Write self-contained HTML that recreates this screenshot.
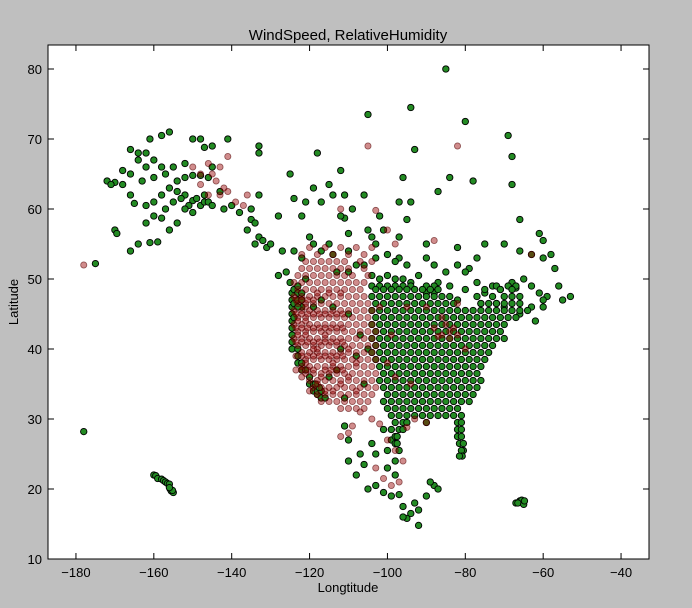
<!DOCTYPE html>
<html><head><meta charset="utf-8"><style>
html,body{margin:0;padding:0;background:#bfbfbf;}
svg{display:block;font-family:"Liberation Sans",sans-serif;}
</style></head><body>
<svg id="chart" width="692" height="608">
<rect x="0" y="0" width="692" height="608" fill="#bfbfbf"/>
<rect x="48" y="45" width="601" height="514" fill="#fff"/>
<g id="marks"></g>
<rect x="48" y="45" width="601" height="514" fill="none" stroke="#000" stroke-width="1"/>
<g id="axes"></g>
<text x="348" y="40" text-anchor="middle" font-size="15">WindSpeed, RelativeHumidity</text>
<text x="348" y="592" text-anchor="middle" font-size="13">Longtitude</text>
<text x="18" y="302" text-anchor="middle" font-size="13" transform="rotate(-90 18 302)">Latitude</text>
</svg>
<script>
const xTicks=[-180,-160,-140,-120,-100,-80,-60,-40];
const yTicks=[10,20,30,40,50,60,70,80];
const greenScatter=[-166,68.5,-164,67,-162,66,-160,67,-158,70.5,-156,71,-163,64,-160,64.5,-158,66,-155,66,-152,66.5,-150,70,-148,70,-147,68.8,-145,69,-141,70,-168,63.5,-170,63.8,-166,62,-165,60.8,-162,60.5,-160,61,-158,62,-156,63,-154,64,-152,64.5,-150,64.8,-148,64.8,-146,64.5,-152,62,-150,61.2,-149,61.5,-151,60.5,-148,60.5,-147,61,-152,60,-154,58,-156,57,-158,58.7,-160,59,-162,58,-161,55.2,-159,55.3,-164,55,-166,54,-170,57,-169.5,56.5,-157,60,-155,61,-153,61.5,-146,61,-145,60.5,-143,62.5,-142,60,-140,60.5,-138,59.5,-135,58.5,-134,58,-133,56,-132,55.5,-134,55,-136,57,-131,54.5,-130,55,-133,62,-133,69,-133,68,-135,60,-145,66,-147,62,-150,59.5,-154,62.5,-157,65,-162,68,-161,70,-164,68,-166,65,-168,65.5,-172,64,-171,63.5,-175,52.2,-178,28.2,
-160,22,-159.5,21.9,-159,21.5,-158,21.4,-157.5,21.2,-157,21,-156.5,20.8,-156,20.7,-155.8,20,-155.5,19.7,-155,19.5,-155.2,19.8,-156,20.2,
-67,18,-66,18.3,-65.5,18.4,-66.5,18,-65,17.8,-64.8,18.3,
-125,65,-118,68,-115,63.5,-112,65.5,-111,62,-114,62,-119,63,-117,61,-121,61,-124,61.5,-122,59,-111,58.7,-112,59,-106,62,-105,57,-101,57,-102,59,-97,56,-95,58.5,-94,61,-96,64.5,-94,74.5,-105,73.5,-85,80,-80,72.5,-84,64.5,-78,64,-69,70.5,-68,67.5,-68,63.5,-66,58.5,-61,56.5,-60,55.5,-58,53.5,-57,51.5,-63,53.5,-60,53,-66,54,-70,55,-75,55,-77,53,-79,51.5,-80,51,-77,49.5,-73,49,-71,48.5,-68,49.5,-65,50,-63,49,-61,48,-59,47.5,-63,46,-62,44,-66,45,-64,45.5,-60,46,-56,49,-53,47.5,-55,47,-66,47.5,-75,48,-80,48.5,-84,49,-87,49.5,-90,48,-92,50.5,-94,49.5,-96,50,-98,50,-100,50.5,-102,50,-104,50.5,-106,52,-108,52,-110,51,-113,51,-114,53.5,-117,54,-119,55,-120,56,-115,55,-110,54,-103,53,-100,53.5,-97,53,-95,52,-90,53,-88,52,-85,51,-82,52,-128,59,-128,50.5,-125,49.5,-124,54,-122,53,-121,50,-110,56.5,-90,55,-82,54.5,-97,61,-104,56,-109,60,-127,54,-126,51,-93,68.5,-87,62.5,-103,55,-98,52.5,-76,46.5,-72,46.5,-70,46,-67,48.7,-60,47,-88,48,-82,47,
-110,24,-108,22,-105,20,-103,20.5,-101,19.5,-99,19,-97,19.2,-96,17.5,-94,16.5,-92,14.8,-92,17,-90,19,-88,20.5,-87,20,-89,21,-100,23,-98,22,-103,25,-106,23.5,-107,25,-110,27,-111,29,-104,26.5,-100,25.5,-97,25.5,-93,18,-95,15.8,-96,16,-98,24,-99,27,-101,28.5,
-112,40,-111,33,-106,35,-108,39,-105,40,-117,47,-114,46,-119,46,-122,46,-110,45,-107,42,-115,36,-113,37,
-124.5,40,-124.5,41,-124.5,42,-124.5,43,-124.5,44,-124.5,45,-124.5,46,-124.5,47,-124.5,48,-124,44.5,-124,46.5,-124,48.5,-123,38,-123,39,-123,40,-123,46,-123,47,-123,48,-123,49,-122,37,-122,38,-122,47,-122,48,-121,37,-120,35,-120,36,-119,34,-119,35,-118,33.5,-118,34,-117,33,-117,34,-116,33,-117.5,34.5,-118.5,35];
const eastLats=[49,48.5,47.5,46.5,45.5,44.5,43.5,42.5,41.5,40.5,39.5,38.5,37.5,36.5,35.5,34.5,33.5,32.5,31.5,30.5,29.5,28.5,27.5,26.5,25.5,24.7];
const eastLons=[
[-104,-102,-100,-98,-96,-94,-90,-88,-72,-69,-67],
[-103,-101,-99,-97,-95,-93,-91,-89,-87,-75,-71,-68],
[-104,-102,-100,-98,-96,-94,-92,-90,-88,-86,-84,-77,-73,-70,-68],
[-103,-101,-99,-97,-95,-93,-91,-89,-87,-85,-83,-76,-74,-72,-70,-68,-66],
[-104,-102,-100,-98,-96,-94,-92,-90,-88,-86,-84,-82,-80,-78,-76,-74,-72,-70,-68,-66],
[-103,-101,-99,-97,-95,-93,-91,-89,-87,-85,-83,-81,-79,-77,-75,-73,-71,-69,-67],
[-104,-102,-100,-98,-96,-94,-92,-90,-88,-86,-84,-82,-80,-78,-76,-74,-72,-70],
[-103,-101,-99,-97,-95,-93,-91,-89,-87,-85,-83,-81,-79,-77,-75,-73,-71],
[-104,-102,-100,-98,-96,-94,-92,-90,-88,-86,-84,-82,-80,-78,-76,-74,-72,-70],
[-103,-101,-99,-97,-95,-93,-91,-89,-87,-85,-83,-81,-79,-77,-75,-73],
[-104,-102,-100,-98,-96,-94,-92,-90,-88,-86,-84,-82,-80,-78,-76,-74],
[-103,-101,-99,-97,-95,-93,-91,-89,-87,-85,-83,-81,-79,-77,-75],
[-102,-100,-98,-96,-94,-92,-90,-88,-86,-84,-82,-80,-78,-76],
[-101,-99,-97,-95,-93,-91,-89,-87,-85,-83,-81,-79,-77],
[-102,-100,-98,-96,-94,-92,-90,-88,-86,-84,-82,-80,-78,-76],
[-101,-99,-97,-95,-93,-91,-89,-87,-85,-83,-81,-79,-77],
[-100,-98,-96,-94,-92,-90,-88,-86,-84,-82,-80,-78],
[-101,-99,-97,-95,-93,-91,-89,-87,-85,-83,-81,-79],
[-100,-98,-96,-94,-92,-90,-88,-86,-84,-82],
[-99,-97,-95,-93,-91,-89,-87,-85,-83,-81],
[-98,-96,-95,-90,-82,-81],
[-99,-97,-96,-82,-81],
[-98,-97.5,-82,-81],
[-98,-97.5,-81.5,-80.5],
[-80.5,-81],
[-80.8,-81.5]];
const redLats=[54.5,53.5,52.5,51.5,50.5,49.5,48.5,47.5,46.5,45.5,44.5,43.5,42.5,41.5,40.5,39.5,38.5,37.5,36.5,35.5,34.5,33.5,32.5,31.5];
const redLons=[
[-120,-116,-112,-108,-104],
[-122,-118,-114,-110,-106],
[-121,-119,-117,-115,-113,-111,-107,-104],
[-122,-120,-118,-116,-114,-112,-110,-106],
[-123,-121,-119,-117,-115,-113,-111,-109,-105],
[-124,-122,-120,-118,-116,-114,-112,-110,-108,-106],
[-123,-121,-119,-117,-115,-113,-111,-109,-107],
[-124,-122,-120,-118,-116,-114,-112,-110,-108,-106],
[-123,-121,-119,-117,-115,-113,-111,-109,-107,-105],
[-124,-122,-120,-118,-116,-114,-112,-110,-108,-106,-104],
[-123,-121,-119,-117,-115,-113,-111,-109,-107,-105],
[-124,-122,-120,-118,-116,-114,-112,-110,-108,-106,-104],
[-123,-121,-119,-117,-115,-113,-111,-109,-107,-105,-103],
[-124,-122,-120,-118,-116,-114,-112,-110,-108,-106,-104],
[-123,-121,-119,-117,-115,-113,-111,-109,-107,-105,-103],
[-122,-120,-118,-116,-114,-112,-110,-108,-106,-104],
[-121,-119,-117,-115,-113,-111,-109,-107,-105,-103],
[-122,-120,-118,-116,-114,-112,-110,-108,-106,-104],
[-121,-119,-117,-115,-113,-111,-109,-107,-105,-103],
[-120,-118,-116,-114,-112,-110,-108,-106,-104],
[-119,-117,-115,-113,-111,-109,-107,-105,-103],
[-118,-116,-114,-112,-110,-108,-106,-104],
[-117,-115,-113,-111,-109,-107,-105],
[-112,-110,-108,-106]];
const redScatter=[-123.5,37,-122,37,-120.5,37,-119,37,-123.5,39,-122,39,-120.5,39,-119,39,-117.5,39,-123.5,41,-122,41,-120.5,41,-119,41,-117.5,41,-123.5,43,-122,43,-120.5,43,-119,43,-117.5,43,-123.5,45,-122,45,-120.5,45,-119,45,-117.5,45,-123.5,47,-122,47,-120.5,47,-119,47,-122,36,-120,34,-118,35,-116,34,-121,38,-118,40,-116,42,-114,38,
-116,37,-114.5,37,-113,37,-111.5,37,-116,39,-114.5,39,-113,39,-111.5,39,-116,41,-114.5,41,-113,41,-111.5,41,-116,43,-114.5,43,-113,43,-111.5,43,-116,45,-114.5,45,-113,45,-111.5,45,-118,48,-115,48,-112,48,-110,40,-108,38,-110,36,-108,34,-112,35,-114,34,-121,42,-121,44,-121,46,-119,40,-117,36,-123,44,-123,42,
-150,66,-148,65,-146,66.5,-144,64,-142,63,-141,62.5,-143,62,-146,62,-139,61,-137,60.5,-136,62,-148,63.5,-141,67.5,-143,66,-145,65,-178,52,-105,69,-82,69,-100,57,-103,59.8,-112,60,-98,55,-88,55.5,-63,53.5,-96,24,-98,25.5,-100,27,-102,29.3,-104,30,-107,31,-109,29,-110,28,-112,27.5,-103,23,-101,21.5,-99,20.5,-97,21,-95,28.8,-93,30,-90,29.5,-86,42,-84,42.5,-83,43,-85,43.5,-87,41.8,-84,41.5,-82,42,-86,44.5,-88,43,-80,40,-82,46.5,-90,46,-95,46,-99,42,-102,46,-100,38,-98,36,-94,35];

const X0=48,X1=649,Y0=45,Y1=559,LON0=-187.18,LON1=-32.82,LAT0=10,LAT1=83.43;
function sx(v){return X0+(v-LON0)/(LON1-LON0)*(X1-X0);}
function sy(v){return Y1-(v-LAT0)/(LAT1-LAT0)*(Y1-Y0);}
const NS='http://www.w3.org/2000/svg';
const marks=document.getElementById('marks');
const axes=document.getElementById('axes');
function dot(lon,lat,kind){
  const c=document.createElementNS(NS,'circle');
  c.setAttribute('cx',sx(lon));c.setAttribute('cy',sy(lat));
  if(kind==='g'){c.setAttribute('r',3.2);c.setAttribute('fill','#238b23');c.setAttribute('stroke','#000');c.setAttribute('stroke-width','0.9');
    }
  else{c.setAttribute('r',3.1);c.setAttribute('fill','rgba(150,0,0,0.45)');c.setAttribute('stroke','rgba(80,0,0,0.6)');c.setAttribute('stroke-width','0.8');
    }
  
  marks.appendChild(c);
}
for(let i=0;i<greenScatter.length;i+=2)dot(greenScatter[i],greenScatter[i+1],'g');
eastLats.forEach((lat,i)=>eastLons[i].forEach(lon=>dot(lon,lat,'g')));
redLats.forEach((lat,i)=>redLons[i].forEach(lon=>dot(lon,lat,'r')));
for(let i=0;i<redScatter.length;i+=2)dot(redScatter[i],redScatter[i+1],'r');
function line(x1,y1,x2,y2,name){const l=document.createElementNS(NS,'line');
  l.setAttribute('x1',x1);l.setAttribute('y1',y1);l.setAttribute('x2',x2);l.setAttribute('y2',y2);l.setAttribute('stroke','#000');
  
  
  axes.appendChild(l);}
function txt(x,y,s,anchor,name){const t=document.createElementNS(NS,'text');
  t.setAttribute('x',x);t.setAttribute('y',y);t.setAttribute('text-anchor',anchor);t.setAttribute('font-size','13');t.textContent=s;
  
  
  axes.appendChild(t);}
xTicks.forEach(v=>{const x=sx(v);line(x,Y1,x,Y1-6,'x-tick');line(x,Y0,x,Y0+6,'x-tick-top');
  txt(x,Y1+18,String(v).replace('-','\u2212'),'middle','x-tick-label');});
yTicks.forEach(v=>{const y=sy(v);line(X0,y,X0+6,y,'y-tick');line(X1,y,X1-6,y,'y-tick-right');
  txt(X0-6,y+5,String(v),'end','y-tick-label');});
</script>
</body></html>
